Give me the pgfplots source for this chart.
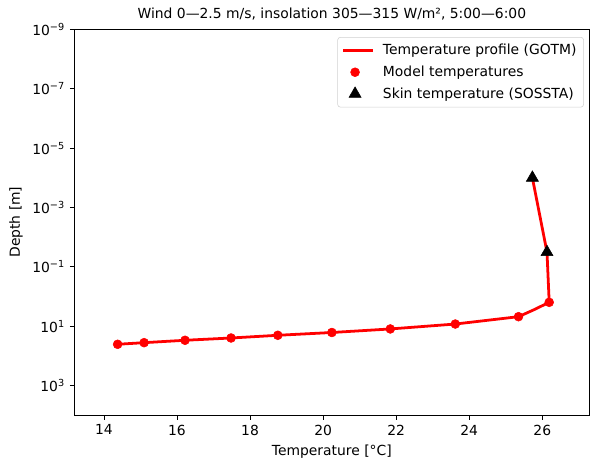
\documentclass[border=0pt]{standalone}
\usepackage{fontspec}
\setmainfont{DejaVu Sans}
\usepackage{pgfplots}
\pgfplotsset{compat=1.18}
\usetikzlibrary{calc}

% temperature [C], depth [m]
\pgfplotstableread{
T      d
25.73  1.0e-4
26.13  0.032
26.19  1.56
25.76  2.82
25.35  4.75
23.62  8.4
21.84  12.3
20.24  16.2
18.76  20.1
17.48  24.8
16.22  29.6
15.10  35.6
14.375 40.4
}\profile
\pgfplotstableread{
T      d
26.19  1.56
25.35  4.75
23.62  8.4
21.84  12.3
20.24  16.2
18.76  20.1
17.48  24.8
16.22  29.6
15.10  35.6
14.375 40.4
}\model
\pgfplotstableread{
T      d
25.73  1.0e-4
26.13  0.032
}\skin

\begin{document}
\begin{tikzpicture}
\begin{axis}[
  scale only axis,
  width=370.3pt, height=277.7pt,
  ymode=log, y dir=reverse,
  xmin=13.2, xmax=27.28, ymin=1e-9, ymax=9.7e3,
  xtick={14,16,...,26},
  ytick={1e-9,1e-7,1e-5,1e-3,1e-1,1e1,1e3},
  yticklabels={10\textsuperscript{−9},10\textsuperscript{−7},10\textsuperscript{−5},10\textsuperscript{−3},10\textsuperscript{−1},10\textsuperscript{1},10\textsuperscript{3}},
  minor tick num=0, minor tick style={draw=none},
  tick align=outside, tick pos=left, major tick length=3.5pt,
  tick style={black, line width=0.6pt},
  axis line style={line width=0.6pt},
  /pgf/number format/assume math mode=true,
  font=\fontsize{10}{12}\selectfont,
  ticklabel style={font=\fontsize{10}{12}\selectfont},
  title={Wind 0—2.5 m/s, insolation 305—315 W/m², 5:00—6:00},
  title style={font=\fontsize{10}{12}\selectfont, yshift=-3pt},
  xlabel={Temperature [°C]},
  ylabel={Depth [m]},
  legend cell align=left,
  legend style={at={(0.99,0.98)}, anchor=north east, draw=black!18,
    rounded corners=2pt, font=\fontsize{10}{12}\selectfont,
    row sep=2.5pt, column sep=4pt, inner xsep=3pt, inner ysep=3pt},
]
  \addplot[red, line width=2pt, no markers,
    legend image code/.code={\draw[##1] (0cm,0cm) -- (0.76cm,0cm);}]
    table[x=T, y=d] {\profile};
  \addlegendentry{Temperature profile (GOTM)}
  \addplot[only marks, mark=*, mark size=3.2pt, red, mark options={fill=red, draw=red}] table[x=T, y=d] {\model};
  \addlegendentry{Model temperatures}
  \addplot[only marks, mark=triangle*, mark size=5pt, black, mark options={fill=black}] table[x=T, y=d] {\skin};
  \addlegendentry{Skin temperature (SOSSTA)}
  \coordinate (sw) at (rel axis cs:0,0);
  \coordinate (ne) at (rel axis cs:1,1);
\end{axis}
\pgfresetboundingbox
\path ($(sw)+(-53.8pt,-36pt)$) rectangle ($(ne)+(1.44pt,21.1pt)$);
\end{tikzpicture}
\end{document}
